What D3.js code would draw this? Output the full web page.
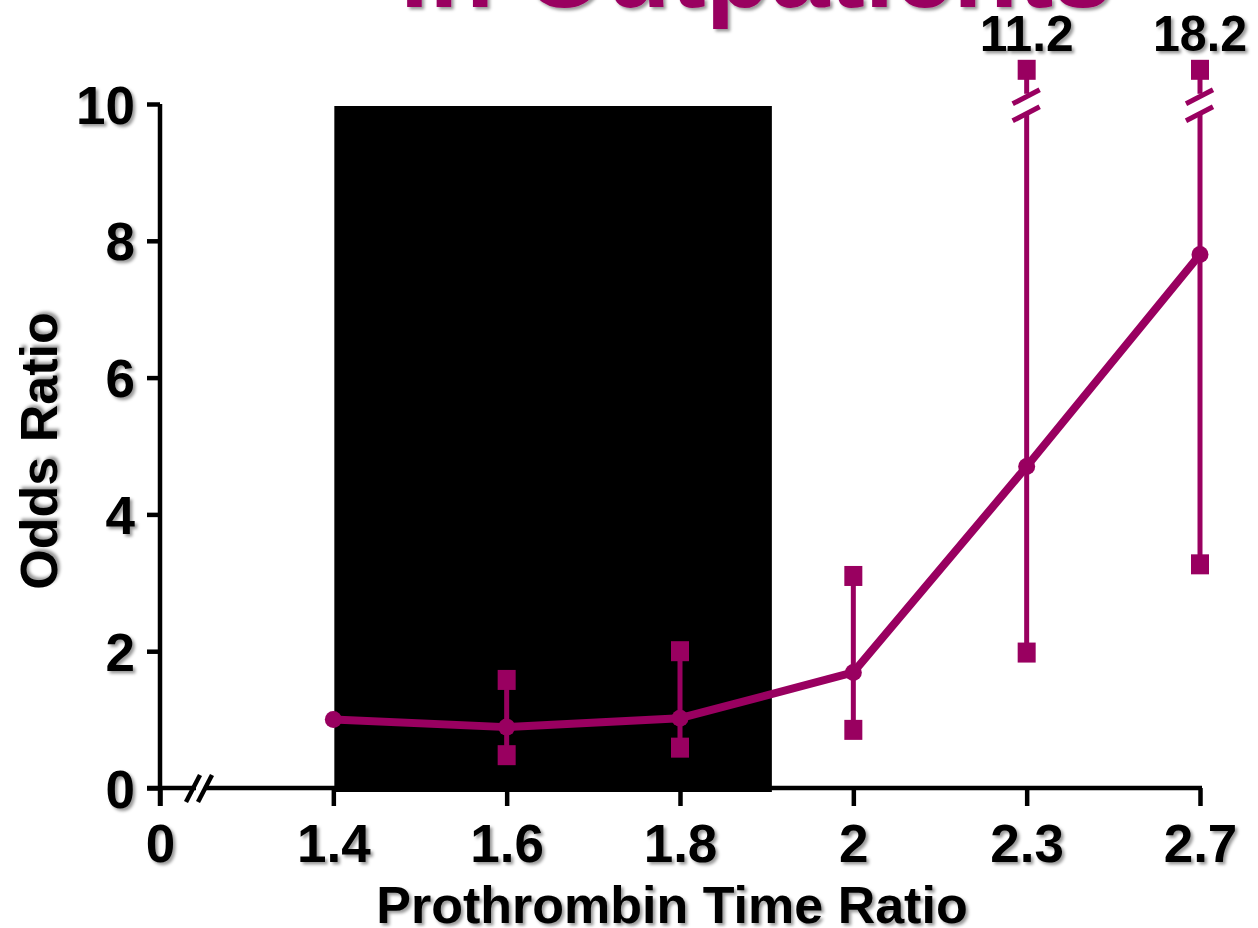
<!DOCTYPE html>
<html>
<head>
<meta charset="utf-8">
<script src="https://cdn.jsdelivr.net/npm/d3@7"></script>
<style>
  html, body { margin: 0; padding: 0; background: #fff; }
  svg { display: block; }
  text { font-family: "Liberation Sans", Arial, Helvetica, sans-serif; font-weight: bold; }
</style>
</head>
<body>
<svg id="chart" width="1258" height="928"></svg>
<script>
// Prothrombin time ratio categories (first entry is the broken-axis origin)
const categories = ["0", "1.4", "1.6", "1.8", "2", "2.3", "2.7"];
// Odds ratio point estimates and 95% confidence limits per PT ratio
const ptRatio   = ["1.4", "1.6", "1.8", "2", "2.3", "2.7"];
const oddsRatio = [1.0, 0.89, 1.02, 1.69, 4.7, 7.8];
const ciLower   = [null, 0.48, 0.59, 0.85, 1.98, 3.27];
const ciUpper   = [null, 1.58, 2.0, 3.1, 11.2, 18.2];
const yTicks    = [0, 2, 4, 6, 8, 10];
// Shaded span on the x axis: from the first category up to part-way past "1.8"
const shadeStart = "1.4";
const shadeEnd = "1.8";
const shadeEndFrac = 0.53;

const COLOR = "#990060";
const svg = d3.select("#chart");

const defs = svg.append("defs");
const f = defs.append("filter").attr("id", "shadow")
  .attr("x", "-20%").attr("y", "-20%").attr("width", "140%").attr("height", "140%");
f.append("feDropShadow").attr("dx", 2.5).attr("dy", 2.5).attr("stdDeviation", 1.6)
  .attr("flood-color", "#000").attr("flood-opacity", 0.4);

const x = d3.scalePoint().domain(categories).range([160, 1200]);
const yMax = 10;
const y = d3.scaleLinear().domain([0, yMax]).range([788, 104]);
const yBreak = 10.5;   // where off-scale upper limits are drawn

// Title (runs off the top edge)
svg.append("text")
  .attr("x", 756).attr("y", 7)
  .attr("text-anchor", "middle")
  .attr("font-size", 106)
  .attr("fill", COLOR)
  .attr("filter", "url(#shadow)")
  .text("in Outpatients");

// Shaded range
svg.append("rect")
  .attr("x", x(shadeStart) + 1)
  .attr("y", y(yMax) + 2)
  .attr("width", x(shadeEnd) + shadeEndFrac * x.step() - x(shadeStart) - 1)
  .attr("height", y(0) - y(yMax) + 2)
  .attr("fill", "#000");

// Y axis
const yAxis = d3.axisLeft(y).tickValues(yTicks).tickSize(13).tickPadding(12)
  .tickFormat(d3.format("d"));
const gy = svg.append("g").attr("transform", "translate(160,0)").call(yAxis);
gy.select(".domain").remove();
gy.selectAll(".tick line").attr("stroke", "#000").attr("stroke-width", 4.5);
gy.selectAll(".tick text").attr("font-size", 53).attr("fill", "#000")
  .attr("filter", "url(#shadow)").attr("dy", "0.36em");
gy.append("line").attr("x1", 0).attr("x2", 0)
  .attr("y1", y(yMax)).attr("y2", y(0) + 18)
  .attr("stroke", "#000").attr("stroke-width", 4.5);

// X axis
const xAxis = d3.axisBottom(x).tickSize(18).tickPadding(18);
const gx = svg.append("g").attr("transform", `translate(0,${y(0)})`).call(xAxis);
gx.select(".domain").remove();
gx.selectAll(".tick line").attr("stroke", "#000").attr("stroke-width", 4.5);
gx.selectAll(".tick text").attr("font-size", 53).attr("fill", "#000")
  .attr("filter", "url(#shadow)");
gx.append("line").attr("x1", x("0") - 13).attr("x2", x("2.7") + 2)
  .attr("y1", 0).attr("y2", 0)
  .attr("stroke", "#000").attr("stroke-width", 4.5);
// Axis break "//" near the origin
gx.append("rect").attr("x", 196).attr("y", -4).attr("width", 8).attr("height", 8).attr("fill", "#fff");
[0, 12].forEach(o => {
  gx.append("line")
    .attr("x1", 186 + o).attr("y1", 14).attr("x2", 200 + o).attr("y2", -13)
    .attr("stroke", "#000").attr("stroke-width", 4.5);
});

// Axis titles
svg.append("text")
  .attr("x", 672).attr("y", 923)
  .attr("text-anchor", "middle").attr("font-size", 52).attr("fill", "#000")
  .attr("filter", "url(#shadow)")
  .text("Prothrombin Time Ratio");
svg.append("text")
  .attr("transform", "translate(57,451) rotate(-90)")
  .attr("text-anchor", "middle").attr("font-size", 52).attr("fill", "#000")
  .attr("filter", "url(#shadow)")
  .text("Odds Ratio");

const data = ptRatio.map((k, i) => ({
  k, or: oddsRatio[i], lo: ciLower[i], hi: ciUpper[i]
}));

// Error bars
const eb = svg.append("g");
data.filter(d => d.lo != null).forEach(d => {
  const cx = x(d.k);
  const broken = d.hi > yMax;
  const yHi = broken ? y(yBreak) : y(d.hi);
  if (broken) {
    // lower segment up to the break, gap, short stub to the cap
    eb.append("line").attr("x1", cx).attr("x2", cx)
      .attr("y1", y(d.lo)).attr("y2", yHi + 44)
      .attr("stroke", COLOR).attr("stroke-width", 5);
    eb.append("line").attr("x1", cx).attr("x2", cx)
      .attr("y1", yHi).attr("y2", yHi + 24)
      .attr("stroke", COLOR).attr("stroke-width", 5);
    [27, 44].forEach(o => {
      eb.append("line")
        .attr("x1", cx - 14).attr("y1", yHi + o + 7)
        .attr("x2", cx + 13).attr("y2", yHi + o - 7)
        .attr("stroke", COLOR).attr("stroke-width", 5);
    });
    svg.append("text")
      .attr("x", cx).attr("y", 51)
      .attr("text-anchor", "middle").attr("font-size", 50)
      .attr("fill", "#000").attr("filter", "url(#shadow)")
      .attr("textLength", 94).attr("lengthAdjust", "spacingAndGlyphs")
      .text(d3.format(".1f")(d.hi));
  } else {
    eb.append("line").attr("x1", cx).attr("x2", cx)
      .attr("y1", y(d.lo)).attr("y2", yHi)
      .attr("stroke", COLOR).attr("stroke-width", 5);
  }
  [y(d.lo), yHi].forEach(cy => {
    eb.append("rect")
      .attr("x", cx - 9).attr("y", cy - 10)
      .attr("width", 18).attr("height", 20)
      .attr("fill", COLOR);
  });
});

// Odds ratio line and points
svg.append("path")
  .datum(data)
  .attr("d", d3.line().x(d => x(d.k)).y(d => y(d.or)))
  .attr("fill", "none").attr("stroke", COLOR).attr("stroke-width", 8)
  .attr("stroke-linejoin", "round");
svg.append("g").selectAll("circle").data(data).join("circle")
  .attr("cx", d => x(d.k)).attr("cy", d => y(d.or)).attr("r", 8.5)
  .attr("fill", COLOR);
</script>
</body>
</html>
